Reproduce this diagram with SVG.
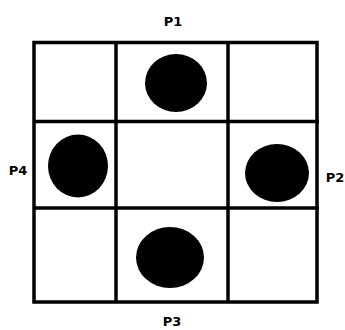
<svg xmlns="http://www.w3.org/2000/svg" width="345" height="330" viewBox="0 0 345 330">
<style>
.g{stroke:#000;stroke-width:3.5;fill:none}
.d{fill:#000}
.t{font-family:"DejaVu Sans",Verdana,sans-serif;font-weight:bold;font-size:13px;fill:#000;text-anchor:middle}
</style>
<rect width="345" height="330" fill="#fff"/>
<g id="grid">
<rect class="g" x="34" y="42.5" width="283" height="259.5"/>
<line class="g" x1="116" y1="42.5" x2="116" y2="303"/>
<line class="g" x1="228" y1="42.5" x2="228" y2="303"/>
<line class="g" x1="34" y1="121.5" x2="319" y2="121.5"/>
<line class="g" x1="34" y1="208" x2="319" y2="208"/>
</g>
<g id="p1"><ellipse class="d" cx="176" cy="83" rx="31" ry="29"/><text class="t" x="173" y="26">P1</text></g>
<g id="p2"><ellipse class="d" cx="277" cy="173" rx="32" ry="29"/><text class="t" x="335" y="182">P2</text></g>
<g id="p3"><ellipse class="d" cx="170" cy="257.5" rx="34" ry="30.5"/><text class="t" x="172" y="326">P3</text></g>
<g id="p4"><ellipse class="d" cx="78" cy="166" rx="30" ry="31.5"/><text class="t" x="18" y="175">P4</text></g>
</svg>
